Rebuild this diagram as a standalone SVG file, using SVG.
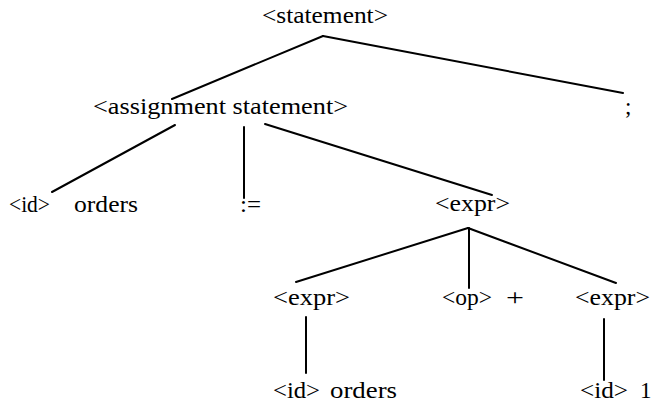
<svg xmlns="http://www.w3.org/2000/svg" width="653" height="402" viewBox="0 0 653 402">
<style>
text{font-family:"Liberation Serif","DejaVu Serif","Noto Serif",Times,serif;font-size:23px;fill:#000}
.e line{stroke:#000;stroke-width:2;stroke-linecap:round}
</style>
<rect width="653" height="402" fill="#fff"/>
<g id="connectors" class="e">
<line x1="323" y1="36" x2="172" y2="99"/>
<line x1="323" y1="36" x2="623" y2="93"/>
<line x1="175" y1="125" x2="52" y2="192"/>
<line x1="244" y1="127" x2="244" y2="198"/>
<line x1="265" y1="124" x2="492" y2="195"/>
<line x1="468" y1="228" x2="296" y2="282"/>
<line x1="469" y1="228" x2="469" y2="288"/>
<line x1="468" y1="228" x2="616" y2="283"/>
<line x1="306" y1="317" x2="306" y2="373"/>
<line x1="604" y1="319" x2="604" y2="380"/>
</g>
<g id="n-statement"><text x="262" y="23" textLength="126" lengthAdjust="spacingAndGlyphs">&lt;statement&gt;</text></g>
<g id="n-assign"><text x="93" y="114" textLength="255" lengthAdjust="spacingAndGlyphs">&lt;assignment statement&gt;</text></g>
<g id="n-semi"><text x="625" y="114">;</text></g>
<g id="n-id1"><text x="9" y="212" textLength="41" lengthAdjust="spacingAndGlyphs">&lt;id&gt;</text><text x="74" y="212" textLength="64" lengthAdjust="spacingAndGlyphs">orders</text></g>
<g id="n-assignop"><text x="240" y="212" textLength="21" lengthAdjust="spacingAndGlyphs">:=</text></g>
<g id="n-expr"><text x="435" y="211" textLength="75" lengthAdjust="spacingAndGlyphs">&lt;expr&gt;</text></g>
<g id="n-expr-left"><text x="273" y="305" textLength="77" lengthAdjust="spacingAndGlyphs">&lt;expr&gt;</text></g>
<g id="n-op"><text x="442" y="305" textLength="50" lengthAdjust="spacingAndGlyphs">&lt;op&gt;</text><text x="506" y="305" textLength="18" lengthAdjust="spacingAndGlyphs">+</text></g>
<g id="n-expr-right"><text x="575" y="305" textLength="75" lengthAdjust="spacingAndGlyphs">&lt;expr&gt;</text></g>
<g id="n-id2"><text x="273" y="398" textLength="47" lengthAdjust="spacingAndGlyphs">&lt;id&gt;</text><text x="330" y="398" textLength="67" lengthAdjust="spacingAndGlyphs">orders</text></g>
<g id="n-id3"><text x="580" y="398" textLength="48" lengthAdjust="spacingAndGlyphs">&lt;id&gt;</text><text x="640" y="398">1</text></g>
</svg>
